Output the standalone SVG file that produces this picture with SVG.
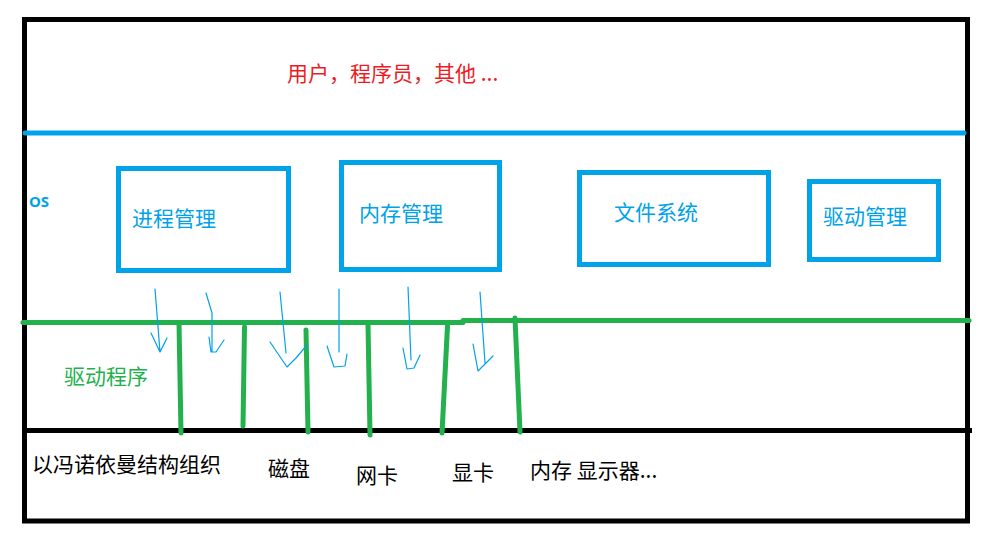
<svg xmlns="http://www.w3.org/2000/svg" width="985" height="537" viewBox="0 0 985 537">
<style>
.cn{font-family:"Noto Sans CJK SC","Noto Sans",sans-serif;font-size:21px}
.blue{fill:#00a2e8}
.box{fill:none;stroke:#00a2e8;stroke-width:5}
.frame{stroke:#000;stroke-width:5;fill:none}
.bus{stroke:#22b14c;stroke-width:5;fill:none;stroke-linecap:round}
.arrow{stroke:#00a2e8;stroke-width:1.2;fill:none;stroke-linejoin:round;stroke-linecap:round}
</style>
<rect width="985" height="537" fill="#fff"/>
<g id="frame">
<path class="frame" d="M24.5 19.5 H967.5 V521 H24.5 Z"/>
<line class="frame" x1="24.5" y1="430.5" x2="972" y2="430.5"/>
<line x1="25" y1="133" x2="964" y2="133" stroke="#00a2e8" stroke-width="5" stroke-linecap="round"/>
</g>
<g id="users"><text class="cn" x="287" y="81" fill="#ed1c24">用户，程序员，其他 ...</text></g>
<g id="os"><text x="29" y="207" font-family="'Noto Sans',sans-serif" font-size="15" font-weight="bold" fill="#00a2e8">OS</text></g>
<g id="process"><rect class="box" x="118.5" y="168.5" width="170" height="102"/><text class="cn blue" x="132" y="226">进程管理</text></g>
<g id="memory"><rect class="box" x="341.5" y="162.5" width="158" height="107"/><text class="cn blue" x="359" y="221">内存管理</text></g>
<g id="filesystem"><rect class="box" x="579.5" y="172.5" width="189" height="92"/><text class="cn blue" x="614" y="220">文件系统</text></g>
<g id="drivermgr"><rect class="box" x="809.5" y="181.5" width="129" height="78"/><text class="cn blue" x="823" y="224">驱动管理</text></g>
<g id="drivers"><text class="cn" x="64" y="384" fill="#22b14c">驱动程序</text></g>
<g id="hardware">
<text class="cn" x="32" y="472" fill="#000">以冯诺依曼结构组织</text>
<text class="cn" x="268" y="476" fill="#000">磁盘</text>
<text class="cn" x="356" y="483" fill="#000">网卡</text>
<text class="cn" x="452" y="480" fill="#000">显卡</text>
<text class="cn" x="530" y="478" fill="#000">内存 显示器...</text>
</g>
<g id="connectors">
<path class="bus" d="M23 322.5 H463"/>
<path class="bus" d="M463 320.5 H969"/>
<path class="bus" d="M179 323 L181 433"/>
<path class="bus" d="M244.5 327 L243 426"/>
<path class="bus" d="M306 330 L308 432"/>
<path class="bus" d="M368 324 L370 435"/>
<path class="bus" d="M447.5 326 L442 433"/>
<path class="bus" d="M515 318 L520 432"/>
<path class="arrow" d="M155 289 L160 352 M151 333 L160 352 L167 338"/>
<path class="arrow" d="M206 293 L212 313 L212 352 M209 337 L211 352 L216 352 L224 340"/>
<path class="arrow" d="M280 292 L286 353 M270 342 L287 367 L296 358 L307 345"/>
<path class="arrow" d="M339 289 L339 352 M327 346 L334 367 L345 366 L347 354"/>
<path class="arrow" d="M408 287 L411 360 M403 348 L407 369 L414 368 L420 355"/>
<path class="arrow" d="M480 292 L485 363 M473 344 L478 371 L493 356"/>
</g>
</svg>
